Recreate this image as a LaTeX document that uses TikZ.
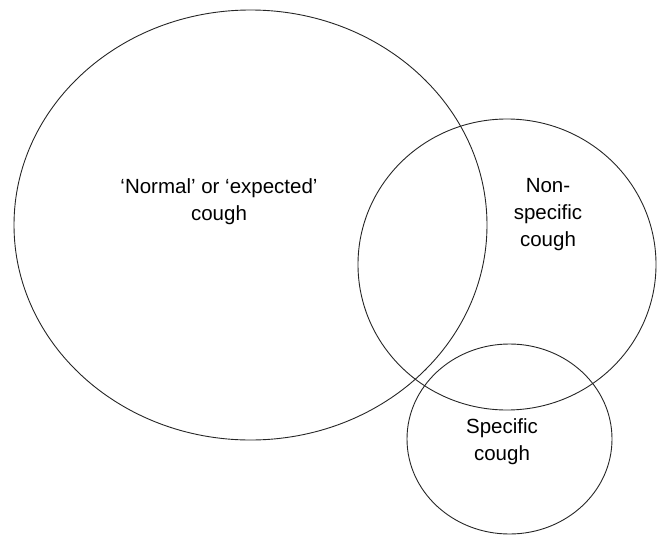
\documentclass[tikz,border=0pt]{standalone}
\usepackage{fontspec}
\setmainfont{Liberation Sans}
\usetikzlibrary{shapes.geometric}

\begin{document}
\begin{tikzpicture}[x=1pt,y=-1pt,semithick,
    set/.style={ellipse,draw=black!85,line width=0.9pt,inner sep=0pt},
    lbl/.style={align=center,font=\fontsize{20.5}{27}\selectfont}]
  \useasboundingbox (0,0) rectangle (658,535);
  \node[set,minimum width=473pt,minimum height=430pt] (normal)   at (250.5,225) {};
  \node[set,minimum width=298pt,minimum height=291pt] (nonspec)  at (507,264.5) {};
  \node[set,minimum width=205pt,minimum height=190pt] (specific) at (509.5,439) {};

  \node[lbl] (normaltxt)   at (219,202)   {`Normal' or `expected'\\cough};
  \node[lbl] (nonspectxt)  at (548,215)   {Non-\\specific\\cough};
  \node[lbl] (specifictxt) at (502,442)   {Specific\\cough};
\end{tikzpicture}
\end{document}
